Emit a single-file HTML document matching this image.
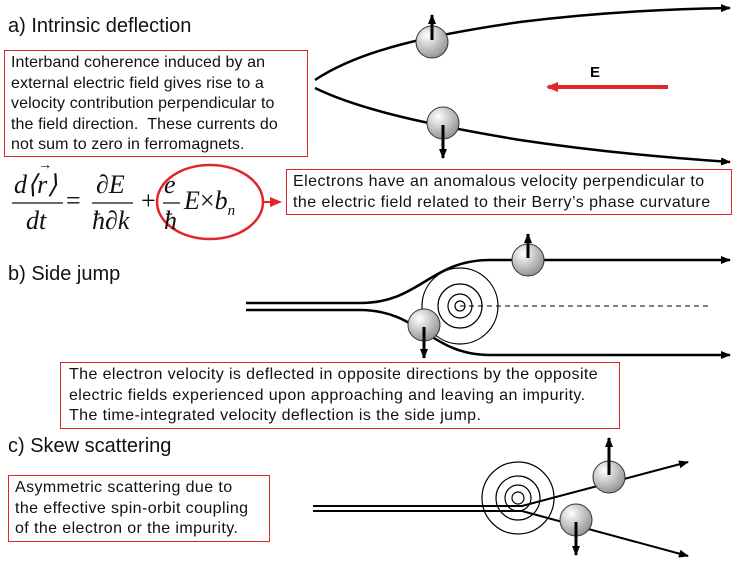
<!DOCTYPE html>
<html><head><style>
body{margin:0;background:#fff;width:736px;height:561px;overflow:hidden;position:relative;font-family:"Liberation Sans",sans-serif}
.t{position:absolute;font-size:20px;color:#111}
.b{position:absolute;border:1.5px solid #e0262a;font-size:16px;line-height:20.5px;color:#111;padding:2px 6px;box-sizing:border-box;white-space:nowrap;letter-spacing:0.4px}
svg{position:absolute;left:0;top:0}
.m{position:absolute;font-family:"Liberation Serif",serif;font-style:italic;font-size:26px;color:#111}
</style></head><body>
<svg width="736" height="561">
<defs>
<radialGradient id="g" cx="0.35" cy="0.3" r="0.8"><stop offset="0" stop-color="#fff"/><stop offset="1" stop-color="#888"/></radialGradient>
<marker id="a" markerWidth="10" markerHeight="8" refX="9" refY="4" orient="auto" markerUnits="userSpaceOnUse"><path d="M0,0L10,4L0,8z" fill="#000"/></marker>
<marker id="r" markerWidth="12" markerHeight="10" refX="10" refY="5" orient="auto" markerUnits="userSpaceOnUse"><path d="M0,0L12,5L0,10z" fill="#e0262a"/></marker>
</defs>
<g fill="none" stroke="#000" stroke-width="2.5">
<path d="M315,80 C360,50 430,35 520,22 C600,12 670,9 730,8" marker-end="url(#a)"/>
<path d="M315,88 C360,110 430,125 520,140 C600,152 670,158 730,162" marker-end="url(#a)"/>
<path d="M246,303 L360,303 C420,303 430,260 490,260 L730,260" marker-end="url(#a)"/>
<path d="M246,310 L360,310 C420,310 430,355 490,355 L730,355" marker-end="url(#a)"/>
<path d="M313,506 L522,506 L688,462" stroke-width="2" marker-end="url(#a)"/>
<path d="M313,511 L522,511 L688,556" stroke-width="2" marker-end="url(#a)"/>
</g>
<line x1="460" y1="306" x2="712" y2="306" stroke="#000" stroke-dasharray="5,4"/>
<g fill="none" stroke="#000" stroke-width="1.2">
<circle cx="460" cy="306" r="38"/><circle cx="460" cy="306" r="22"/><circle cx="460" cy="306" r="12"/><circle cx="460" cy="306" r="5"/>
<circle cx="518" cy="498" r="36"/><circle cx="518" cy="498" r="22"/><circle cx="518" cy="498" r="13"/><circle cx="518" cy="498" r="6"/>
</g>
<g fill="url(#g)" stroke="#333" stroke-width="1">
<circle cx="432" cy="42" r="16"/><circle cx="443" cy="123" r="16"/>
<circle cx="528" cy="260" r="16"/><circle cx="424" cy="325" r="16"/>
<circle cx="609" cy="477" r="16"/><circle cx="576" cy="520" r="16"/>
</g>
<g stroke="#000" stroke-width="3">
<line x1="432" y1="40" x2="432" y2="15" marker-end="url(#a)"/>
<line x1="443" y1="125" x2="443" y2="158" marker-end="url(#a)"/>
<line x1="528" y1="258" x2="528" y2="234" marker-end="url(#a)"/>
<line x1="424" y1="327" x2="424" y2="358" marker-end="url(#a)"/>
<line x1="609" y1="475" x2="609" y2="438" marker-end="url(#a)"/>
<line x1="576" y1="522" x2="576" y2="555" marker-end="url(#a)"/>
</g>
<line x1="668" y1="87" x2="548" y2="87" stroke="#e0262a" stroke-width="4" marker-end="url(#r)"/>
<ellipse cx="210" cy="202" rx="53" ry="37" fill="none" stroke="#e0262a" stroke-width="2.5"/>
<line x1="263" y1="202" x2="280" y2="202" stroke="#e0262a" stroke-width="2" marker-end="url(#r)"/>
<line x1="12" y1="203" x2="63" y2="203" stroke="#111" stroke-width="1.3"/>
<line x1="92" y1="203" x2="133" y2="203" stroke="#111" stroke-width="1.3"/>
<line x1="163" y1="203" x2="180" y2="203" stroke="#111" stroke-width="1.3"/>
</svg>
<div class="t" style="left:8px;top:15px">a) Intrinsic deflection</div>
<div class="b" style="left:4px;top:50px;width:304px;height:107px;letter-spacing:0.1px">Interband coherence induced by an<br>external electric field gives rise to a<br>velocity contribution perpendicular to<br>the field direction.&nbsp; These currents do<br>not sum to zero in ferromagnets.</div>
<div style="position:absolute;left:590px;top:64px;font-weight:bold;font-size:15px">E</div>
<div class="m" style="left:14px;top:170px">d⟨<span style="position:relative">r<span style="position:absolute;left:1px;top:-12px;font-size:14px;font-style:normal">→</span></span>⟩</div>
<div class="m" style="left:26px;top:206px">dt</div>
<div class="m" style="left:66px;top:186px;font-style:normal">=</div>
<div class="m" style="left:96px;top:170px"><span style="font-style:normal">∂</span>E</div>
<div class="m" style="left:92px;top:206px">ħ<span style="font-style:normal">∂</span>k</div>
<div class="m" style="left:141px;top:186px;font-style:normal">+</div>
<div class="m" style="left:164px;top:170px">e</div>
<div class="m" style="left:164px;top:206px">ħ</div>
<div class="m" style="left:184px;top:186px">E<span style="font-style:normal">×</span>b<sub style="font-size:15px">n</sub></div>
<div class="b" style="left:286px;top:169px;width:446px;height:46px;letter-spacing:0.45px">Electrons have an anomalous velocity perpendicular to<br>the electric field related to their Berry’s phase curvature</div>
<div class="t" style="left:8px;top:263px">b) Side jump</div>
<div class="b" style="left:60px;top:362px;width:560px;height:67px;padding-left:8px">The electron velocity is deflected in opposite directions by the opposite<br>electric fields experienced upon approaching and leaving an impurity.<br>The time-integrated velocity deflection is the side jump.</div>
<div class="t" style="left:8px;top:435px">c) Skew scattering</div>
<div class="b" style="left:8px;top:475px;width:262px;height:67px">Asymmetric scattering due to<br>the effective spin-orbit coupling<br>of the electron or the impurity.</div>
</body></html>
